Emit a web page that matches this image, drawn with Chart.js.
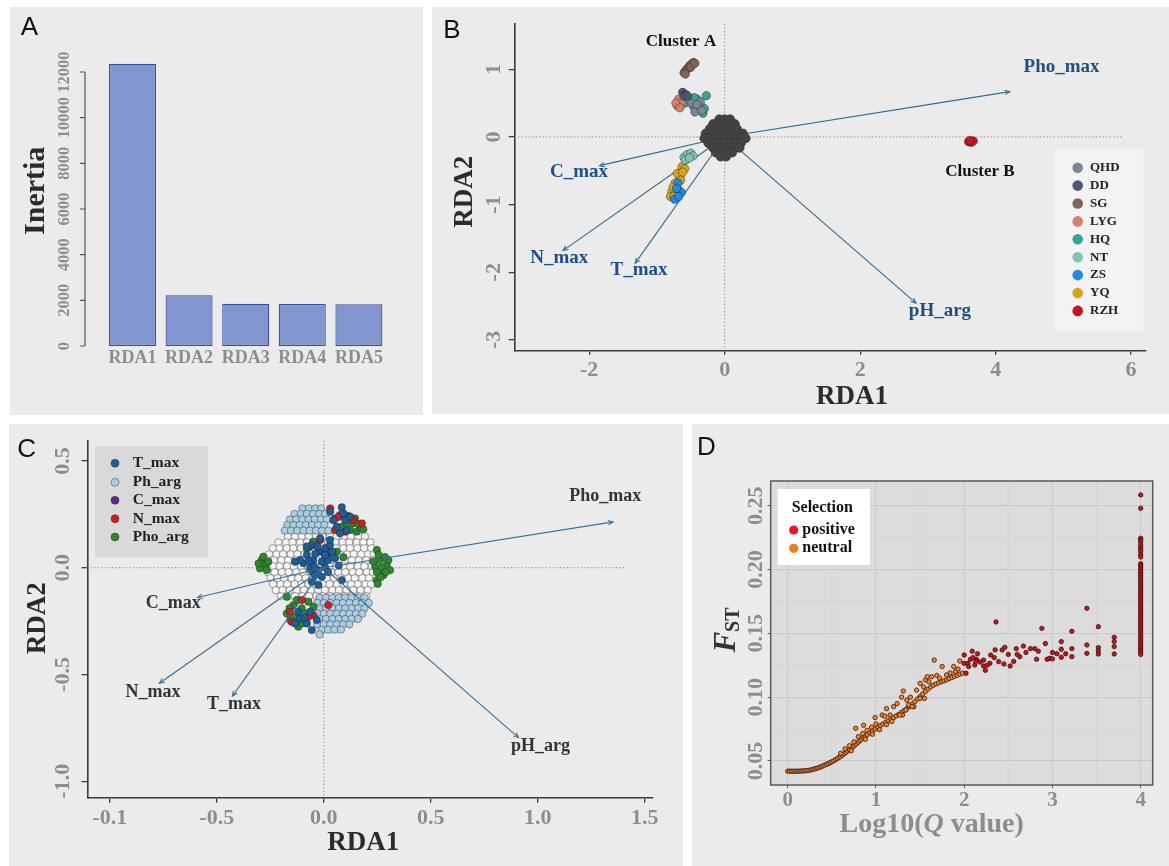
<!DOCTYPE html>
<html>
<head>
<meta charset="utf-8">
<script src="https://cdn.jsdelivr.net/npm/chart.js@4.4.1/dist/chart.umd.min.js"></script>
<style>
  html, body { margin: 0; padding: 0; background: #ffffff; }
  body { width: 1169px; height: 866px; position: relative; overflow: hidden; }
  .panel { position: absolute; background: #ebebeb; }
  .panel canvas { position: absolute; left: 0; top: 0; }
</style>
</head>
<body>
<div class="panel" style="left:10px;top:7px;width:413px;height:408px"><canvas id="chartA" width="413" height="408"></canvas></div>
<div class="panel" style="left:432px;top:7px;width:737px;height:407px"><canvas id="chartB" width="737" height="407"></canvas></div>
<div class="panel" style="left:9px;top:424px;width:674px;height:442px"><canvas id="chartC" width="674" height="442"></canvas></div>
<div class="panel" style="left:692px;top:424px;width:477px;height:442px"><canvas id="chartD" width="477" height="442"></canvas></div>
<script>
// ---------------- Panel A: inertia of the RDA axes ----------------
const rdaAxes = ['RDA1', 'RDA2', 'RDA3', 'RDA4', 'RDA5'];
const inertia = [12360, 2220, 1850, 1840, 1830];
const inertiaTicks = [0, 2000, 4000, 6000, 8000, 10000, 12000];

// ---------------- Panel B: sample scores by site ----------------
const siteNames = ['QHD', 'DD', 'SG', 'LYG', 'HQ', 'NT', 'ZS', 'YQ', 'RZH'];
const bQHD = [[-0.46,0.45],[-0.39,0.42],[-0.44,0.37],[-0.36,0.52],[-0.49,0.50],[-0.34,0.39],[-0.41,0.48]];
const bDD  = [[-0.62,0.66],[-0.58,0.63],[-0.60,0.60],[-0.55,0.61]];
const bSG  = [[-0.60,0.95],[-0.57,0.99],[-0.54,1.02],[-0.52,1.05],[-0.49,1.08],[-0.46,1.10],[-0.58,0.93],[-0.50,1.03],[-0.44,1.09]];
const bLYG = [[-0.68,0.56],[-0.70,0.46],[-0.64,0.51],[-0.72,0.50],[-0.66,0.43]];
const bHQ  = [[-0.27,0.61],[-0.32,0.35],[-0.41,0.56],[-0.51,0.53],[-0.36,0.47],[-0.55,0.57],[-0.45,0.58],[-0.30,0.42],[-0.58,0.50]];
const bNT  = [[-0.60,-0.30],[-0.55,-0.26],[-0.50,-0.24],[-0.47,-0.28],[-0.58,-0.34],[-0.52,-0.31]];
const bZS  = [[-0.69,-0.68],[-0.64,-0.82],[-0.74,-0.92],[-0.68,-0.88],[-0.71,-0.76]];
const bYQ  = [[-0.63,-0.44],[-0.59,-0.47],[-0.66,-0.59],[-0.70,-0.54],[-0.73,-0.68],[-0.78,-0.81],[-0.80,-0.88],[-0.68,-0.78],[-0.75,-0.88],[-0.62,-0.52],[-0.76,-0.74],[-0.65,-0.64]];
const bRZH = [[3.60,-0.07],[3.64,-0.08],[3.67,-0.06],[3.62,-0.05]];
const sitePoints = [bQHD, bDD, bSG, bLYG, bHQ, bNT, bZS, bYQ, bRZH];
// loci scores packed around the origin, listed row by row: [y, [x...]]
const bLociRows = [
  [0.26, [-0.08, 0.00, 0.08]],
  [0.19, [-0.17, -0.09, -0.01, 0.07, 0.15]],
  [0.12, [-0.22, -0.14, -0.06, 0.02, 0.10, 0.18]],
  [0.05, [-0.28, -0.20, -0.12, -0.04, 0.04, 0.12, 0.20, 0.27]],
  [-0.02, [-0.30, -0.22, -0.14, -0.06, 0.02, 0.10, 0.18, 0.26, 0.31]],
  [-0.09, [-0.24, -0.16, -0.08, 0.00, 0.08, 0.16, 0.24]],
  [-0.16, [-0.17, -0.09, -0.01, 0.07, 0.15, 0.22]],
  [-0.23, [-0.13, -0.05, 0.03, 0.11]],
  [-0.29, [-0.06, 0.02]]
];
const envVars = ['Pho_max', 'C_max', 'N_max', 'T_max', 'pH_arg'];
const bBiplotX = [4.21, -1.845, -2.387, -1.32, 2.824];
const bBiplotY = [0.67, -0.424, -1.68, -1.866, -2.456];
const bXTicks = [-2, 0, 2, 4, 6];
const bYTicks = [-3, -2, -1, 0, 1];

// ---------------- Panel C: loci scores by associated variable ----------------
const cGroups = ['T_max', 'Ph_arg', 'C_max', 'N_max', 'Pho_arg'];
const cNeutralRows = [
  [0.147, [-0.168,-0.134,-0.103,-0.070,-0.036,-0.006,0.029,0.060,0.095,0.126,0.161,0.192]],
  [0.119, [-0.212,-0.176,-0.146,-0.110,-0.079,-0.044,-0.013,0.022,0.053,0.088,0.119,0.154,0.185,0.218]],
  [0.091, [-0.238,-0.207,-0.173,-0.142,-0.107,-0.076,-0.041,-0.010,0.025,0.056,0.091,0.122,0.157,0.188,0.222]],
  [0.063, [-0.256,-0.221,-0.190,-0.155,-0.124,-0.089,-0.058,-0.023,0.008,0.043,0.074,0.109,0.140,0.175,0.206,0.233]],
  [0.035, [-0.266,-0.233,-0.198,-0.167,-0.132,-0.101,-0.066,-0.035,0.000,0.031,0.066,0.097,0.132,0.163,0.198,0.229]],
  [0.007, [-0.270,-0.237,-0.206,-0.171,-0.140,-0.105,-0.074,-0.039,-0.008,0.027,0.058,0.093,0.124,0.159,0.190,0.225]],
  [-0.021, [-0.261,-0.230,-0.195,-0.164,-0.129,-0.098,-0.063,-0.032,0.003,0.034,0.069,0.100,0.135,0.166,0.201,0.230]],
  [-0.049, [-0.249,-0.216,-0.185,-0.150,-0.119,-0.084,-0.053,-0.018,0.013,0.048,0.079,0.114,0.145,0.180,0.211]],
  [-0.077, [-0.237,-0.202,-0.171,-0.136,-0.105,-0.070,-0.039,-0.004,0.027,0.062,0.093,0.128,0.159,0.194,0.221]],
  [-0.105, [-0.224,-0.193,-0.158,-0.127,-0.092,-0.061,-0.026,0.005,0.040,0.071,0.106,0.137,0.172,0.205]],
  [-0.133, [-0.201,-0.166,-0.135,-0.100,-0.069,-0.034,-0.003,0.032,0.063,0.098,0.129,0.164,0.197]]
];
const cPhArgRows = [
  [0.278, [-0.100,-0.070,-0.040,-0.012]],
  [0.252, [-0.137,-0.108,-0.079,-0.050,-0.021,0.006]],
  [0.226, [-0.158,-0.129,-0.100,-0.071,-0.042,-0.013,0.014]],
  [0.200, [-0.171,-0.142,-0.113,-0.084,-0.055,-0.026,0.003]],
  [0.174, [-0.182,-0.153,-0.124,-0.095,-0.066,-0.037,-0.008,0.021]],
  [-0.140, [-0.020,0.010,0.040,0.070,0.100,0.130,0.160,0.190]],
  [-0.165, [-0.030,0.000,0.030,0.060,0.090,0.120,0.150,0.180,0.210]],
  [-0.190, [-0.020,0.010,0.040,0.070,0.100,0.130,0.160,0.190]],
  [-0.215, [-0.030,0.000,0.030,0.060,0.090,0.120,0.150,0.180]],
  [-0.240, [-0.020,0.010,0.040,0.070,0.100,0.130,0.160]],
  [-0.265, [-0.030,0.000,0.030,0.060,0.090,0.120]],
  [-0.290, [-0.010,0.020,0.050,0.080]],
  [-0.312, [-0.020]]
];
const cTmax = [[0.084,0.283],[0.092,0.254],[0.100,0.223],[0.061,0.192],[0.045,0.223],[0.107,0.176],[0.076,0.161],[0.030,0.262],[0.123,0.239],
  [-0.056,0.106],[-0.025,0.075],[0.006,0.091],[0.029,0.106],[-0.079,0.060],[-0.049,0.036],[-0.009,0.028],[0.021,0.036],[0.053,0.044],
  [-0.095,0.021],[-0.064,-0.003],[-0.025,-0.011],[0.006,0.002],[-0.041,-0.034],[-0.009,-0.042],[-0.056,-0.066],[-0.025,-0.081],
  [-0.111,0.036],[0.029,0.130],[-0.017,0.138],[0.084,-0.058],[-0.134,0.028],[0.070,0.010],[0.006,0.060],[-0.079,0.100],[-0.040,0.065],
  [-0.030,0.100],[0.040,0.075],[-0.070,0.030],[0.020,-0.020],[-0.045,0.005],
  [-0.111,-0.237],[-0.079,-0.261],[-0.056,-0.292],[-0.119,-0.206],[-0.064,-0.206],[-0.134,-0.261],[-0.033,-0.245],[-0.090,-0.235]];
const cCmax = [[0.011,0.080],[0.022,0.070],[-0.003,0.072],[0.015,0.055]];
const cNmax = [[0.030,0.278],[0.076,0.247],[0.053,0.231],[0.115,0.242],[0.178,0.208],[0.053,0.177],[0.100,0.169],[0.069,0.239],[0.139,0.223],
  [0.037,0.075],[-0.017,0.130],[-0.064,0.100],[-0.150,-0.253],[-0.157,-0.206],[-0.049,-0.222],[-0.103,-0.151],[-0.072,-0.229],[0.021,-0.175]];
const cPhoArg = [[0.138,0.208],[0.154,0.169],[0.123,0.177],[0.170,0.190],[0.084,0.192],[0.107,0.208],[0.146,0.231],[0.185,0.180],[0.160,0.205],
  [-0.290,0.036],[-0.274,0.013],[-0.298,-0.003],[-0.266,-0.011],[-0.282,0.052],[-0.259,0.028],[-0.305,0.020],
  [0.248,0.083],[0.263,0.036],[0.294,0.013],[0.310,-0.011],[0.279,-0.034],[0.248,-0.058],[0.240,0.005],[0.270,0.000],[0.302,0.036],
  [0.256,0.060],[0.248,-0.020],[0.286,0.050],[0.265,-0.045],[0.232,0.030],[0.290,-0.020],[0.252,-0.075],
  [-0.049,0.122],[0.061,0.075],[-0.079,0.090],[0.092,0.049],[-0.056,-0.018],
  [-0.173,-0.136],[-0.142,-0.175],[-0.173,-0.214],[-0.103,-0.190],[-0.119,-0.276],[-0.072,-0.159],[-0.157,-0.245],[-0.087,-0.214],
  [-0.048,-0.183],[-0.126,-0.151],[-0.140,-0.230],[-0.100,-0.260],[-0.160,-0.190]];
const cBiplotX = [1.352, -0.59, -0.768, -0.427, 0.91];
const cBiplotY = [0.215, -0.139, -0.541, -0.601, -0.796];
const cXTicks = [-1, -0.5, 0, 0.5, 1, 1.5];
const cXTickLabels = ['-0.1', '-0.5', '0.0', '0.5', '1.0', '1.5'];
const cYTicks = [-1, -0.5, 0, 0.5];
const cYTickLabels = ['-1.0', '-0.5', '0.0', '0.5'];

// ---------------- Panel D: FST against log10(Q value) ----------------
const selectionClasses = ['positive', 'neutral'];
const dNeutral = [
  [0.00,0.0420],[0.02,0.0420],[0.04,0.0420],[0.06,0.0420],[0.08,0.0420],[0.10,0.0420],[0.12,0.0420],[0.14,0.0421],[0.16,0.0422],
  [0.18,0.0422],[0.20,0.0424],[0.22,0.0425],[0.24,0.0427],[0.26,0.0430],[0.28,0.0433],[0.30,0.0437],[0.32,0.0441],[0.34,0.0445],
  [0.36,0.0450],[0.38,0.0456],[0.40,0.0462],[0.42,0.0468],[0.44,0.0474],[0.46,0.0480],[0.48,0.0487],[0.50,0.0494],[0.52,0.0501],
  [0.54,0.0510],[0.56,0.0518],[0.58,0.0527],[0.60,0.0536],[0.62,0.0546],[0.64,0.0556],[0.66,0.0567],[0.68,0.0578],[0.70,0.0589],
  [0.72,0.0600],[0.74,0.0612],[0.76,0.0624],[0.78,0.0636],[0.80,0.0648],[0.82,0.0660],[0.84,0.0672],[0.86,0.0683],[0.88,0.0694],
  [0.90,0.0705],[0.93,0.0720],[0.96,0.0735],[0.99,0.0750],[1.02,0.0765],[1.05,0.0778],[1.08,0.0790],[1.11,0.0802],[1.14,0.0815],
  [1.17,0.0828],[1.20,0.0840],[1.23,0.0853],[1.26,0.0866],[1.29,0.0880],[1.32,0.0895],[1.35,0.0910],[1.38,0.0928],[1.41,0.0946],
  [1.44,0.0965],[1.47,0.0985],[1.50,0.1005],[1.53,0.1025],[1.56,0.1045],[1.59,0.1063],[1.62,0.1080],[1.65,0.1093],[1.68,0.1104],
  [1.71,0.1112],[1.74,0.1120],[1.77,0.1128],[1.80,0.1136],[1.83,0.1145],[1.86,0.1154],[1.89,0.1163],[1.92,0.1172],[1.95,0.1180],[1.98,0.1188],
  [0.60,0.0560],[0.65,0.0595],[0.70,0.0620],[0.75,0.0650],[0.80,0.0690],[0.85,0.0715],[0.90,0.0740],[0.95,0.0765],[1.00,0.0790],
  [0.72,0.0580],[0.88,0.0670],[0.96,0.0710],[1.04,0.0745],[1.12,0.0785],[1.18,0.0810],[1.30,0.0860],[1.43,0.0925],[1.55,0.0990],
  [0.77,0.0756],[0.86,0.0780],[0.99,0.0840],[1.07,0.0860],[1.12,0.0910],[1.20,0.0926],[1.24,0.0950],[1.31,0.1048],[1.29,0.1000],
  [1.37,0.0940],[1.39,0.1000],[1.46,0.1055],[1.54,0.1080],[1.56,0.1134],[1.66,0.1290],[1.63,0.1160],[1.69,0.1170],[1.75,0.1240],
  [1.80,0.1174],[1.88,0.1240],[1.95,0.1283],[1.90,0.1200],[1.10,0.0850],[1.16,0.0860],[1.27,0.0860],[1.34,0.0900],[1.41,0.0926],
  [1.50,0.0990],[1.60,0.1120],[1.72,0.1150],[1.84,0.1190],[1.93,0.1220],[1.58,0.1160],[1.50,0.1108],[1.35,0.0978]
];
const dPositive = [
  [2.00,0.1330],[2.00,0.1265],[2.02,0.1187],[2.04,0.1265],[2.07,0.1296],[2.09,0.1360],[2.12,0.1252],[2.14,0.1296],[2.15,0.1340],
  [2.18,0.1275],[2.22,0.1290],[2.22,0.1244],[2.24,0.1210],[2.29,0.1265],[2.34,0.1310],[2.35,0.1370],[2.36,0.1589],[2.39,0.1278],
  [2.43,0.1370],[2.46,0.1390],[2.50,0.1335],[2.52,0.1244],[2.56,0.1280],[2.59,0.1380],[2.63,0.1317],[2.67,0.1400],[2.70,0.1350],
  [2.80,0.1380],[2.82,0.1297],[2.84,0.1360],[2.88,0.1539],[2.92,0.1420],[2.94,0.1297],[2.97,0.1305],[3.00,0.1350],[3.00,0.1300],
  [3.05,0.1340],[3.10,0.1435],[3.10,0.1375],[3.10,0.1312],[3.15,0.1340],[3.22,0.1516],[3.22,0.1380],[3.22,0.1317],[3.39,0.1696],
  [3.39,0.1409],[3.39,0.1343],[3.52,0.1552],[3.52,0.1388],[3.52,0.1362],[3.52,0.1338],[3.70,0.1469],[3.70,0.1435],[3.70,0.1396],
  [3.70,0.1338],[2.10,0.1310],[2.13,0.1280],[2.05,0.1240],[2.30,0.1330],[2.26,0.1250],[2.45,0.1260],[2.60,0.1335],[2.75,0.1380]
];
// loci at the upper limit of log10(Q value)
const dCapQ = 4;
const dCapFst = [0.2584,0.2479,0.2245,0.2232,0.2218,0.2195,0.2172,0.2155,0.2138,0.2115,0.2098,0.2045,0.2032,0.2018,0.2002,0.1985,
  0.1968,0.1952,0.1935,0.1918,0.1900,0.1883,0.1866,0.1850,0.1832,0.1815,0.1798,0.1780,0.1763,0.1746,0.1728,0.1710,0.1694,0.1676,
  0.1660,0.1642,0.1625,0.1608,0.1590,0.1573,0.1556,0.1538,0.1520,0.1503,0.1486,0.1468,0.1452,0.1434,0.1418,0.1400,0.1384,0.1367,0.1350,0.1335];
const dXTicks = [0, 1, 2, 3, 4];
const dYTicks = [0.05, 0.10, 0.15, 0.20, 0.25];
const dYTickLabels = ['0.05', '0.10', '0.15', '0.20', '0.25'];
const dMinorX = [0.5, 1.5, 2.5, 3.5];
const dMinorY = [0.075, 0.125, 0.175, 0.225];

// ---------------- shared drawing helpers ----------------
const SERIF = '"Liberation Serif", "Times New Roman", serif';
const SANS = '"Liberation Sans", Arial, sans-serif';
const GRAY = '#8d8d8d';
const fnt = (size, weight = 'bold', style = 'normal', fam = SERIF) => `${style} ${weight} ${size}px ${fam}`;
const pairs = arr => arr.map(([x, y]) => ({ x, y }));
const fromRows = rows => rows.flatMap(([y, xs]) => xs.map(x => ({ x, y })));
const setTicks = values => s => { s.ticks = values.map(v => ({ value: v })); };

function text(ctx, s, x, y, font, color, align = 'center', rot = 0) {
  ctx.save();
  ctx.translate(x, y);
  if (rot) ctx.rotate(rot);
  ctx.font = font; ctx.fillStyle = color; ctx.textAlign = align; ctx.textBaseline = 'middle';
  ctx.fillText(s, 0, 0);
  ctx.restore();
}
function yTickLabels(chart, labels, x, font, color) {
  const s = chart.scales.y;
  s.ticks.forEach((t, i) => text(chart.ctx, labels[i], x, s.getPixelForValue(t.value), font, color, 'center', -Math.PI / 2));
}
function arrow(ctx, x0, y0, x1, y1, color, lw) {
  ctx.save();
  ctx.strokeStyle = color; ctx.lineWidth = lw;
  ctx.beginPath(); ctx.moveTo(x0, y0); ctx.lineTo(x1, y1); ctx.stroke();
  const a = Math.atan2(y1 - y0, x1 - x0), h = 5.5, w = 0.42;
  ctx.beginPath();
  ctx.moveTo(x1 - h * Math.cos(a - w), y1 - h * Math.sin(a - w));
  ctx.lineTo(x1, y1);
  ctx.lineTo(x1 - h * Math.cos(a + w), y1 - h * Math.sin(a + w));
  ctx.stroke();
  ctx.restore();
}
function dotted(ctx, x0, y0, x1, y1) {
  ctx.save();
  ctx.strokeStyle = '#8a8a8a'; ctx.lineWidth = 1; ctx.setLineDash([1.3, 2.2]);
  ctx.beginPath(); ctx.moveTo(x0, y0); ctx.lineTo(x1, y1); ctx.stroke();
  ctx.restore();
}
function dot(ctx, x, y, r, fill, stroke) {
  ctx.beginPath(); ctx.arc(x, y, r, 0, Math.PI * 2);
  ctx.fillStyle = fill; ctx.fill();
  if (stroke) { ctx.strokeStyle = stroke; ctx.lineWidth = 0.7; ctx.stroke(); }
}
const baseOptions = {
  responsive: false, animation: false, events: [], devicePixelRatio: 1,
  plugins: { legend: { display: false }, tooltip: { enabled: false } }
};
const axisLine = { display: true, color: '#3a3a3a', width: 1.6 };
const tickMarks = len => ({ display: true, drawOnChartArea: false, drawTicks: true, tickLength: len, color: '#3a3a3a', lineWidth: 1.3 });
const tickFont = size => ({ family: SERIF, size, weight: 'bold' });

// ---------------- Panel A ----------------
new Chart(document.getElementById('chartA'), {
  type: 'bar',
  data: {
    labels: rdaAxes,
    datasets: [{ data: inertia, backgroundColor: '#8195cf', borderColor: '#3c4c9c', borderWidth: 1.2,
                 borderSkipped: false, barPercentage: 0.83, categoryPercentage: 1.0 }]
  },
  options: {
    ...baseOptions,
    layout: { padding: { left: 0, right: 35.8, top: 53.6, bottom: 0 } },
    scales: {
      x: { grid: { display: false, drawTicks: false }, border: { display: false },
           ticks: { color: GRAY, font: tickFont(18), padding: 2 },
           afterFit: s => { s.height = 69; } },
      y: { min: 0, max: 12500, afterBuildTicks: setTicks(inertiaTicks),
           grid: { display: false, drawTicks: false }, border: { display: false }, ticks: { display: false },
           afterFit: s => { s.width = 94.2; } }
    }
  },
  plugins: [{
    id: 'panelA',
    afterDraw(chart) {
      const ctx = chart.ctx, y = chart.scales.y, ax = 75;
      const top = y.getPixelForValue(inertiaTicks[inertiaTicks.length - 1]), bot = y.getPixelForValue(inertiaTicks[0]);
      ctx.save();
      ctx.strokeStyle = '#555'; ctx.lineWidth = 1.2;
      ctx.beginPath(); ctx.moveTo(ax, top); ctx.lineTo(ax, bot);
      inertiaTicks.forEach(v => { const p = y.getPixelForValue(v); ctx.moveTo(ax - 5, p); ctx.lineTo(ax, p); });
      ctx.stroke();
      ctx.restore();
      yTickLabels(chart, inertiaTicks.map(String), 54.3, fnt(16.5), GRAY);
      text(ctx, 'Inertia', 25.8, 183.8, fnt(30), '#2b2b2b', 'center', -Math.PI / 2);
      text(ctx, 'A', 19.5, 21, fnt(26, 'normal', 'normal', SANS), '#111');
    }
  }]
});

// ---------------- Panel B ----------------
const siteColors = ['#7b8799', '#4a5873', '#7f6654', '#d4806e', '#38a592', '#80c3b1', '#1a8ce6', '#d6a617', '#c8141c'];
const bDatasets = siteNames.map((name, i) => ({
  label: name, data: pairs(sitePoints[i]), pointRadius: 4.2,
  pointBackgroundColor: siteColors[i], pointBorderColor: 'rgba(35,35,35,0.55)', pointBorderWidth: 0.8
}));
bDatasets.push({ label: 'loci', data: fromRows(bLociRows), pointRadius: 4.5,
  pointBackgroundColor: '#444444', pointBorderColor: '#3a3a3a', pointBorderWidth: 0.8 });

new Chart(document.getElementById('chartB'), {
  type: 'scatter',
  data: { datasets: bDatasets },
  options: {
    ...baseOptions,
    layout: { padding: { left: 0, right: 23, top: 17, bottom: 0 } },
    scales: {
      x: { type: 'linear', min: -3.1, max: 6.22, afterBuildTicks: setTicks(bXTicks),
           grid: tickMarks(4), border: axisLine,
           ticks: { color: GRAY, font: tickFont(22), padding: 2, callback: v => String(v) },
           afterFit: s => { s.height = 63.3; } },
      y: { type: 'linear', min: -3.16, max: 1.67, afterBuildTicks: setTicks(bYTicks),
           grid: tickMarks(6), border: axisLine, ticks: { display: false },
           afterFit: s => { s.width = 82.7; } }
    }
  },
  plugins: [{
    id: 'panelB',
    beforeDatasetsDraw(chart) {
      const { ctx, chartArea: ca, scales: { x, y } } = chart;
      dotted(ctx, x.getPixelForValue(0), ca.top, x.getPixelForValue(0), ca.bottom);
      dotted(ctx, ca.left, y.getPixelForValue(0), x.getPixelForValue(5.86), y.getPixelForValue(0));
      envVars.forEach((v, i) => arrow(ctx, x.getPixelForValue(0), y.getPixelForValue(0),
        x.getPixelForValue(bBiplotX[i]), y.getPixelForValue(bBiplotY[i]), '#2c6a8e', 1.1));
    },
    afterDatasetsDraw(chart) {
      const { ctx, scales: { x, y } } = chart;
      const offsets = [[51.7, -25], [-20.7, 6.6], [-3.7, 7.6], [3.7, 6.7], [24, 8.4]];
      envVars.forEach((v, i) => text(ctx, v, x.getPixelForValue(bBiplotX[i]) + offsets[i][0],
        y.getPixelForValue(bBiplotY[i]) + offsets[i][1], fnt(19), '#1d4f8c'));
      text(ctx, 'Cluster A', x.getPixelForValue(-0.645), y.getPixelForValue(1.408), fnt(17), '#111');
      text(ctx, 'Cluster B', x.getPixelForValue(3.768), y.getPixelForValue(-0.513), fnt(17), '#111');
      // site legend
      ctx.fillStyle = '#f3f3f3';
      ctx.fillRect(623, 142, 88.3, 182);
      siteNames.forEach((name, i) => {
        const yy = 160.7 + i * 17.9;
        dot(ctx, 645.7, yy, 5.3, siteColors[i]);
        text(ctx, name, 658, yy, fnt(13), '#222', 'left');
      });
    },
    afterDraw(chart) {
      const ctx = chart.ctx;
      yTickLabels(chart, bYTicks.map(String), 62.3, fnt(22), GRAY);
      text(ctx, 'RDA2', 33.3, 184.7, fnt(27), '#2b2b2b', 'center', -Math.PI / 2);
      text(ctx, 'RDA1', 420, 390, fnt(27), '#2b2b2b');
      text(ctx, 'B', 20, 23.5, fnt(26, 'normal', 'normal', SANS), '#111');
    }
  }]
});

// ---------------- Panel C ----------------
const groupColors = ['#1b5e9b', '#a9cde3', '#5b2a8e', '#d7191c', '#2b8a2b'];
const groupPoints = [pairs(cTmax), fromRows(cPhArgRows), pairs(cCmax), pairs(cNmax), pairs(cPhoArg)];
const groupOrder = [0, 4, 1, 2, 3];
const cDatasets = cGroups.map((g, i) => ({
  label: g, data: groupPoints[i], order: groupOrder[i], pointRadius: 3.7,
  pointBackgroundColor: groupColors[i], pointBorderColor: 'rgba(30,30,30,0.6)', pointBorderWidth: 0.7
}));
cDatasets.push({ label: 'other', data: fromRows(cNeutralRows), order: 5, pointRadius: 3.7,
  pointBackgroundColor: '#f6f6f6', pointBorderColor: '#6e6e6e', pointBorderWidth: 0.7 });

new Chart(document.getElementById('chartC'), {
  type: 'scatter',
  data: { datasets: cDatasets },
  options: {
    ...baseOptions,
    layout: { padding: { left: 0, right: 30.3, top: 16.7, bottom: 0 } },
    scales: {
      x: { type: 'linear', min: -1.105, max: 1.537, afterBuildTicks: setTicks(cXTicks),
           grid: tickMarks(5), border: axisLine,
           ticks: { color: GRAY, font: tickFont(22), padding: 2.4, callback: v => cXTickLabels[cXTicks.indexOf(v)] },
           afterFit: s => { s.height = 68.3; } },
      y: { type: 'linear', min: -1.077, max: 0.595, afterBuildTicks: setTicks(cYTicks),
           grid: tickMarks(5.6), border: axisLine, ticks: { display: false },
           afterFit: s => { s.width = 78.3; } }
    }
  },
  plugins: [{
    id: 'panelC',
    beforeDatasetsDraw(chart) {
      const { ctx, chartArea: ca, scales: { x, y } } = chart;
      dotted(ctx, x.getPixelForValue(0), ca.top, x.getPixelForValue(0), ca.bottom);
      dotted(ctx, ca.left, y.getPixelForValue(0), x.getPixelForValue(1.408), y.getPixelForValue(0));
    },
    afterDatasetsDraw(chart) {
      const { ctx, scales: { x, y } } = chart;
      const offsets = [[-7.9, -25.7], [-24.3, 6], [-6.3, 9], [1.7, 8.3], [22, 8.3]];
      envVars.forEach((v, i) => {
        const px = x.getPixelForValue(cBiplotX[i]), py = y.getPixelForValue(cBiplotY[i]);
        arrow(ctx, x.getPixelForValue(0), y.getPixelForValue(0), px, py, '#3a6f96', 1.1);
        text(ctx, v, px + offsets[i][0], py + offsets[i][1], fnt(18), '#333');
      });
      // variable legend
      ctx.fillStyle = '#d9d9d9';
      ctx.fillRect(86, 22, 112.7, 111.3);
      const ys = [39.3, 58.3, 76.3, 94.7, 113];
      cGroups.forEach((g, i) => {
        dot(ctx, 106, ys[i], 4, groupColors[i], 'rgba(30,30,30,0.6)');
        text(ctx, g, 123.7, ys[i], fnt(15.5), '#222', 'left');
      });
    },
    afterDraw(chart) {
      const ctx = chart.ctx;
      yTickLabels(chart, cYTickLabels, 54.3, fnt(22), GRAY);
      text(ctx, 'RDA2', 28.7, 194.3, fnt(27), '#2b2b2b', 'center', -Math.PI / 2);
      text(ctx, 'RDA1', 354.3, 419.3, fnt(27), '#2b2b2b');
      text(ctx, 'C', 17.7, 25.5, fnt(26, 'normal', 'normal', SANS), '#111');
    }
  }]
});

// ---------------- Panel D ----------------
const selColors = ['#c5161d', '#f08a24'];
const selKeyColors = ['#f0141c', '#f57c1a'];
const dGrid = { display: true, drawOnChartArea: true, drawTicks: true, tickLength: 3, color: '#c9c9c9', tickColor: '#555', lineWidth: 1 };
new Chart(document.getElementById('chartD'), {
  type: 'scatter',
  data: {
    datasets: [
      { label: selectionClasses[0], data: pairs(dPositive).concat(dCapFst.map(f => ({ x: dCapQ, y: f }))), pointRadius: 2.2,
        pointBackgroundColor: selColors[0], pointBorderColor: '#3b130c', pointBorderWidth: 0.8 },
      { label: selectionClasses[1], data: pairs(dNeutral), pointRadius: 2.2,
        pointBackgroundColor: selColors[1], pointBorderColor: '#3b130c', pointBorderWidth: 0.8 }
    ]
  },
  options: {
    ...baseOptions,
    layout: { padding: { left: 0, right: 16.3, top: 57, bottom: 0 } },
    scales: {
      x: { type: 'linear', min: -0.193, max: 4.136, afterBuildTicks: setTicks(dXTicks),
           grid: dGrid, border: { display: false },
           ticks: { color: GRAY, font: tickFont(21), padding: 0, callback: v => String(v) },
           afterFit: s => { s.height = 81; } },
      y: { type: 'linear', min: 0.0312, max: 0.2693, afterBuildTicks: setTicks(dYTicks),
           grid: dGrid, border: { display: false }, ticks: { display: false },
           afterFit: s => { s.width = 78.7; } }
    }
  },
  plugins: [{
    id: 'panelD',
    beforeDraw(chart) {
      const { ctx, chartArea: ca } = chart;
      ctx.fillStyle = '#dcdcdc';
      ctx.fillRect(ca.left, ca.top, ca.right - ca.left, ca.bottom - ca.top);
    },
    beforeDatasetsDraw(chart) {
      const { ctx, chartArea: ca, scales: { x, y } } = chart;
      ctx.save();
      ctx.strokeStyle = '#d2d2d2'; ctx.lineWidth = 0.8;
      ctx.beginPath();
      dMinorX.forEach(v => { const p = x.getPixelForValue(v); ctx.moveTo(p, ca.top); ctx.lineTo(p, ca.bottom); });
      dMinorY.forEach(v => { const p = y.getPixelForValue(v); ctx.moveTo(ca.left, p); ctx.lineTo(ca.right, p); });
      ctx.stroke();
      ctx.restore();
    },
    afterDatasetsDraw(chart) {
      const { ctx, chartArea: ca } = chart;
      ctx.save();
      ctx.strokeStyle = '#5a5a5a'; ctx.lineWidth = 1.5;
      ctx.strokeRect(ca.left, ca.top, ca.right - ca.left, ca.bottom - ca.top);
      ctx.restore();
      // selection legend
      ctx.fillStyle = '#ffffff';
      ctx.fillRect(85.7, 65, 92.3, 76);
      text(ctx, 'Selection', 130.3, 84.3, fnt(16), '#111');
      [106, 124.3].forEach((yy, i) => {
        dot(ctx, 101.7, yy, 4.6, selKeyColors[i]);
        text(ctx, selectionClasses[i], 110.3, yy, fnt(16), '#111', 'left');
      });
    },
    afterDraw(chart) {
      const ctx = chart.ctx;
      yTickLabels(chart, dYTickLabels, 64.7, fnt(22), GRAY);
      // F_ST axis title, rotated, with the ST subscript
      ctx.save();
      ctx.translate(34.7, 206);
      ctx.rotate(-Math.PI / 2);
      ctx.fillStyle = '#333'; ctx.textBaseline = 'middle'; ctx.textAlign = 'left';
      ctx.font = fnt(31, 'bold', 'italic');
      const wF = ctx.measureText('F').width;
      ctx.font = fnt(20);
      const wS = ctx.measureText('ST').width;
      const x0 = -(wF + wS) / 2;
      ctx.font = fnt(31, 'bold', 'italic');
      ctx.fillText('F', x0, 0);
      ctx.font = fnt(20);
      ctx.fillText('ST', x0 + wF, 7);
      ctx.restore();
      // Log10(Q value) axis title with italic Q
      ctx.save();
      ctx.fillStyle = GRAY; ctx.textBaseline = 'middle'; ctx.textAlign = 'left';
      const parts = [['Log10(', 'normal'], ['Q', 'italic'], [' value)', 'normal']];
      let total = 0;
      parts.forEach(([s, st]) => { ctx.font = fnt(28, 'bold', st); total += ctx.measureText(s).width; });
      let cx = 239.7 - total / 2;
      parts.forEach(([s, st]) => { ctx.font = fnt(28, 'bold', st); ctx.fillText(s, cx, 401); cx += ctx.measureText(s).width; });
      ctx.restore();
      text(ctx, 'D', 14.3, 24, fnt(26, 'normal', 'normal', SANS), '#111');
    }
  }]
});
</script>
</body>
</html>
